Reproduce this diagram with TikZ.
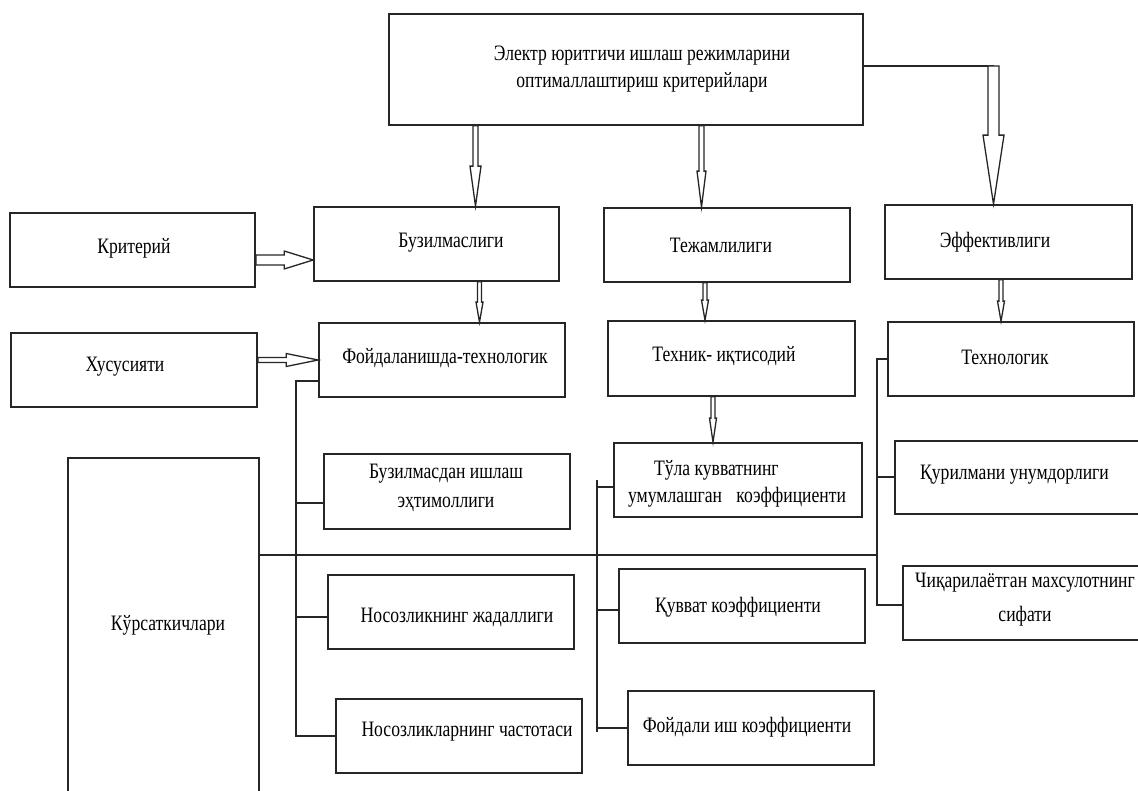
\documentclass[tikz,border=0pt]{standalone}
\usepackage{fontspec}
\setmainfont{Liberation Serif}[FakeStretch=0.8]
\usetikzlibrary{calc}
\newcommand{\vhollow}[5]{%
  \draw[arr] let \p1=(#1), \p2=(#2) in
   (\x2-#3,\y1) -- (\x2-#3,\y2+#5) -- (\x2-#4,\y2+#5) -- (\x2,\y2) -- (\x2+#4,\y2+#5) -- (\x2+#3,\y2+#5) -- (\x2+#3,\y1) -- cycle;}
\newcommand{\hhollow}[5]{%
  \draw[arr] let \p1=(#1), \p2=(#2) in
   (\x1,\y1+#3) -- (\x2-#5,\y1+#3) -- (\x2-#5,\y1+#4) -- (\x2,\y1) -- (\x2-#5,\y1-#4) -- (\x2-#5,\y1-#3) -- (\x1,\y1-#3) -- cycle;}
\begin{document}
\begin{tikzpicture}[x=1pt,y=-1pt,
  box/.style={draw=black!85, line width=1.7pt, inner sep=0pt, fill=white},
  lab/.style={font=\fontsize{22}{27}\selectfont, align=center, inner sep=0pt},
  conn/.style={draw=black!85, line width=1.7pt},
  arr/.style={draw=black!85, line width=1.3pt, fill=white, line join=miter}]
\useasboundingbox (0,0) rectangle (1138,791);

% top
\node[box, minimum width=474, minimum height=111,
  label={[lab,xshift=16pt]center:Электр юритгичи ишлаш режимларини\\оптималлаштириш критерийлари}] (top) at (626,69.5) {};
% row 1
\node[box, minimum width=245, minimum height=74, label={[lab,xshift=1.5pt,yshift=2pt]center:Критерий}] (krit) at (132.5,250) {};
\node[box, minimum width=245, minimum height=74, label={[lab,xshift=14.5pt,yshift=1pt]center:Бузилмаслиги}] (buz) at (436.5,244) {};
\node[box, minimum width=246, minimum height=74, label={[lab,xshift=-6pt]center:Тежамлилиги}] (tej) at (727,245) {};
\node[box, minimum width=247, minimum height=74, label={[lab,xshift=-13.5pt]center:Эффективлиги}] (eff) at (1008.5,242) {};
% row 2
\node[box, minimum width=246, minimum height=74, label={[lab,xshift=-9pt,yshift=3pt]center:Хусусияти}] (hus) at (134,370) {};
\node[box, minimum width=246, minimum height=74, label={[lab,xshift=3pt,yshift=2pt]center:Фойдаланишда-технологик}] (foyd) at (442,360) {};
\node[box, minimum width=247, minimum height=75, label={[lab,xshift=-7.5pt,yshift=2.5pt]center:Техник- иқтисодий}] (tex) at (731.5,358.5) {};
\node[box, minimum width=246, minimum height=74, label={[lab,xshift=-6pt,yshift=2pt]center:Технологик}] (texn) at (1011,359) {};
% left column
\node[box, minimum width=191, minimum height=362, label={[lab,xshift=4.5pt,yshift=14pt]center:Кўрсаткичлари}] (kur) at (163.5,639) {};
\node[box, minimum width=246, minimum height=75, label={[lab,xshift=-1pt,yshift=4pt,font=\fontsize{22}{29}\selectfont]center:Бузилмасдан ишлаш\\эҳтимоллиги}] (bez) at (447,491.5) {};
\node[box, minimum width=246, minimum height=74, label={[lab,xshift=6pt,yshift=-5pt]center:Носозликнинг жадаллиги}] (nos1) at (451,612) {};
\node[box, minimum width=246, minimum height=74, label={[lab,xshift=8pt,yshift=4pt]center:Носозликларнинг частотаси}] (nos2) at (459,736) {};
% middle column
\node[box, minimum width=248, minimum height=74, label={[lab,align=left,xshift=-1pt,yshift=-3.5pt]center:\hspace*{26pt}Тўла кувватнинг\\умумлашган\hspace{10pt} коэффициенти}] (tula) at (738,480) {};
\node[box, minimum width=246, minimum height=74, label={[lab,xshift=-4pt,yshift=-1pt]center:Қувват коэффициенти}] (kuv) at (742,606) {};
\node[box, minimum width=246, minimum height=74, label={[lab,xshift=-4pt,yshift=1pt]center:Фойдали иш коэффициенти}] (fik) at (751,728) {};
% right column
\node[box, minimum width=250, minimum height=73, label={[lab,xshift=-5.5pt,yshift=2.5pt]center:Қурилмани унумдорлиги}] (qur) at (1020,477.5) {};
\node[box, minimum width=247, minimum height=74, label={[lab,xshift=-1.5pt,yshift=3pt,font=\fontsize{22}{34}\selectfont]center:Чиқарилаётган махсулотнинг\\сифати}] (chiq) at (1026.5,603) {};

% bus coordinates
\coordinate (lbus) at (296,381);
\coordinate (mbus) at (597,480);
\coordinate (rbus) at (877,359);

% left bus
\draw[conn] ([yshift=-21pt]foyd.west) -- (lbus) -- (lbus |- nos2.west) -- (nos2.west);
\draw[conn] ([yshift=-11.5pt]bez.west) -- ([yshift=-11.5pt]bez.west -| lbus);
\draw[conn] ([yshift=-5pt]nos1.west) -- ([yshift=-5pt]nos1.west -| lbus);
% middle bus
\draw[conn] (mbus) -- ([yshift=-4pt]fik.west -| mbus);
\draw[conn] ([yshift=-7pt]tula.west) -- ([yshift=-7pt]tula.west -| mbus);
\draw[conn] ([yshift=-4pt]kuv.west) -- ([yshift=-4pt]kuv.west -| mbus);
\draw[conn] (fik.west) -- (fik.west -| mbus);
% right bus
\draw[conn] (texn.west) -- (rbus) -- ([yshift=-2pt]chiq.west -| rbus) -- ([yshift=-2pt]chiq.west);
\draw[conn] ([yshift=0.5pt]qur.west) -- ([yshift=0.5pt]qur.west -| rbus);
% long horizontal line
\draw[conn] ([yshift=84pt]kur.east) -- ([yshift=84pt]kur.east -| rbus);

% vertical hollow arrows
\coordinate (e1) at ([xshift=39pt]buz.north);
\vhollow{top.south -| e1}{e1}{2.5pt}{5.5pt}{40pt}
\coordinate (e2) at ([xshift=-25.5pt]tej.north);
\vhollow{top.south -| e2}{e2}{2.5pt}{4.5pt}{36pt}
\coordinate (e3) at ([xshift=-15pt]eff.north);
\coordinate (s3) at ([yshift=3.5pt]top.east -| e3);
\draw[conn] ([yshift=3.5pt]top.east) -- (s3);
\vhollow{s3}{e3}{5.5pt}{10.5pt}{69pt}
\coordinate (e4) at ([xshift=37.5pt]foyd.north);
\vhollow{buz.south -| e4}{e4}{2pt}{3.5pt}{20pt}
\coordinate (e5) at ([xshift=-26.5pt]tex.north);
\vhollow{tej.south -| e5}{e5}{2pt}{3.5pt}{20pt}
\coordinate (e6) at ([xshift=-10pt]texn.north);
\vhollow{eff.south -| e6}{e6}{2pt}{3.5pt}{20pt}
\coordinate (e7) at ([xshift=-25pt]tula.north);
\vhollow{tex.south -| e7}{e7}{2pt}{3.5pt}{24pt}

% horizontal hollow arrows
\coordinate (h1) at ([yshift=-10pt]krit.east);
\hhollow{h1}{buz.west |- h1}{5pt}{9pt}{29pt}
\coordinate (h2) at ([yshift=10pt]hus.east);
\hhollow{h2}{foyd.west |- h2}{2.5pt}{6.5pt}{32pt}
\end{tikzpicture}
\end{document}
